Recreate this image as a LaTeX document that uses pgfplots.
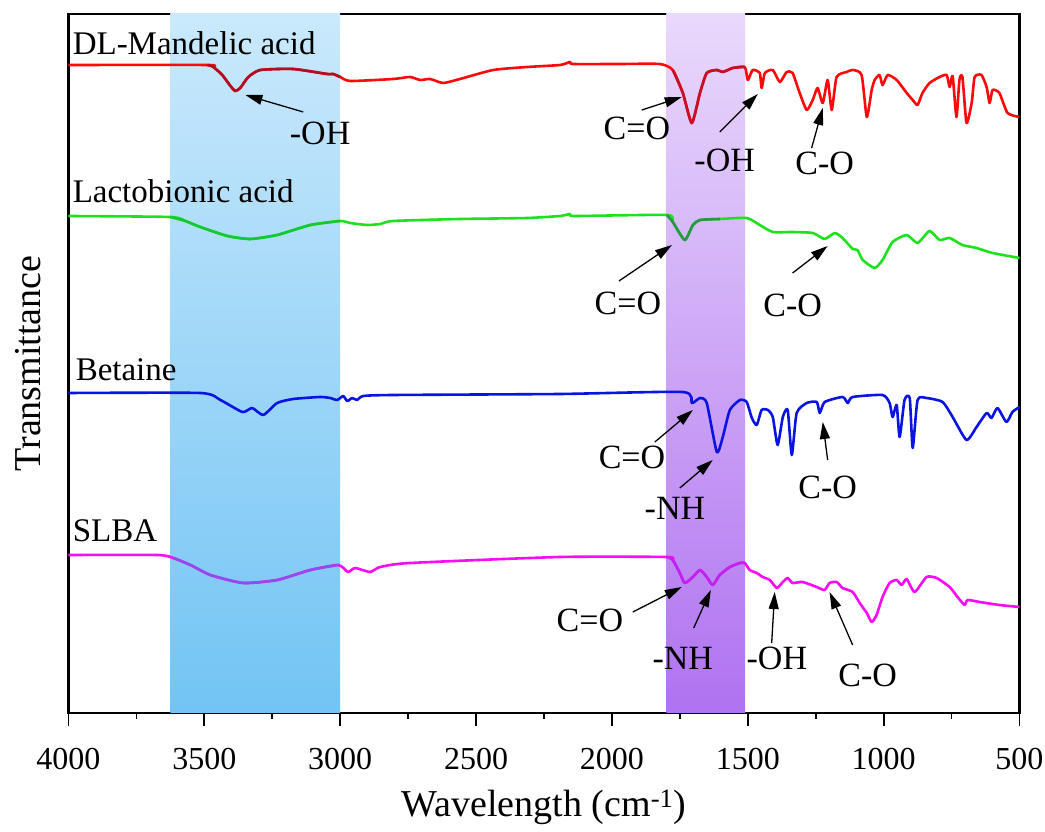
\documentclass[border=0pt]{standalone}
\usepackage{fontspec}
\setmainfont{Liberation Serif}
\usepackage{pgfplots}
\pgfplotsset{compat=1.18}
\usetikzlibrary{arrows.meta}
\definecolor{cRed}{RGB}{250,10,10}
\definecolor{cGreen}{RGB}{30,225,30}
\definecolor{cBlue}{RGB}{10,20,225}
\definecolor{cMag}{RGB}{250,10,245}
\definecolor{bBlueT}{RGB}{202,233,252}
\definecolor{bBlueB}{RGB}{114,196,244}
\definecolor{bPurT}{RGB}{233,217,252}
\definecolor{bPurB}{RGB}{176,114,241}
% curve colours seen through the bands
\definecolor{cRedB}{RGB}{175,15,35}
\definecolor{cGreenB}{RGB}{20,200,50}
\definecolor{cMagB}{RGB}{145,75,238}
\definecolor{cRedP}{RGB}{200,15,40}
\definecolor{cGreenP}{RGB}{40,150,70}
\definecolor{cMagP}{RGB}{190,35,240}
\pgfplotstableread{
x y
4000 648
3489 648
3467 646
3434 638
3404 627
3386 622
3368 625
3338 636
3294 643
3173 644
3048 639
3026 639
3000 636
2963 632
2805 634
2743 636
2706 633
2669 634
2621 630
2559 634
2437 643
2312 646
2191 648
2154 651
2143 649
1971 649
1824 649
1776 643
1739 620
1706 590
1676 620
1651 640
1614 643
1592 641
1555 645
1511 646
1500 633
1482 643
1456 640
1449 625
1437 640
1408 643
1382 631
1357 641
1335 640
1309 620
1283 603
1261 613
1243 625
1224 610
1206 633
1191 603
1173 636
1136 641
1114 643
1081 638
1062 596
1044 623
1033 633
1015 638
1004 628
985 638
952 633
915 620
893 613
875 608
857 620
831 630
794 636
768 638
757 626
746 637
732 596
721 633
710 636
695 590
676 610
665 636
640 638
621 626
610 610
599 623
574 620
544 600
500 596
}\tabMandelic
\pgfplotstableread{
x y
4000 497
3625 496
3570 492
3515 486
3415 477
3331 474
3232 478
3110 488
3000 492
2963 490
2901 488
2853 489
2805 492
2559 494
2312 495
2191 497
2154 499
2136 497
1798 498
1776 491
1732 473
1702 488
1676 493
1603 494
1504 495
1456 488
1408 481
1335 481
1261 480
1217 474
1180 480
1151 475
1114 464
1096 463
1077 453
1033 445
1004 453
967 471
915 478
875 470
831 482
794 473
757 475
710 468
658 465
599 460
500 455
}\tabLacto
\pgfplotstableread{
x y
4000 320
3515 320
3441 313
3360 301
3324 305
3283 298
3232 310
3173 314
3074 316
3037 315
3011 313
2989 317
2974 312
2956 315
2938 313
2915 317
2805 318
2191 319
1739 321
1706 310
1676 315
1651 310
1614 261
1592 276
1566 303
1529 313
1504 311
1485 295
1467 288
1449 303
1426 303
1408 296
1390 268
1371 296
1353 303
1338 258
1320 300
1283 310
1246 311
1235 300
1217 311
1151 316
1132 310
1114 316
1004 318
978 310
967 296
952 308
941 276
923 313
904 315
893 265
875 313
842 315
783 311
746 296
695 273
658 286
621 300
603 295
581 305
548 291
526 301
500 306
}\tabBetaine
\pgfplotstableread{
x y
4000 158
3673 158
3614 155
3551 148
3478 138
3357 130
3232 133
3110 143
3007 148
2971 141
2945 145
2890 141
2853 146
2743 150
2191 156
1798 156
1776 153
1750 140
1732 130
1702 136
1676 143
1651 136
1629 128
1603 138
1566 146
1529 150
1511 150
1493 143
1467 140
1445 136
1419 133
1393 125
1371 131
1353 135
1335 130
1298 131
1246 126
1217 123
1199 130
1173 131
1151 125
1114 121
1088 110
1062 100
1044 91
1026 98
1004 116
978 130
952 133
934 128
915 134
886 121
842 136
805 135
757 126
728 116
702 108
691 113
647 111
574 108
500 106
}\tabSLBA
\begin{document}
\begin{tikzpicture}[x=1pt,y=1pt]
\begin{axis}[
  at={(0,0)}, anchor=south west,
  scale only axis, width=951pt, height=699pt,
  x dir=reverse, xmin=500, xmax=4000, ymin=0, ymax=699,
  xtick={500,1000,...,4000}, minor x tick num=1,
  ytick=\empty, xtick pos=left,
  axis line style={line width=2.2pt},
  tick align=outside,
  major tick length=13pt, minor tick length=6pt,
  every tick/.style={black, line width=1.8pt},
  tick label style={font=\fontsize{32}{38}\selectfont},
  xticklabel style={yshift=-19pt},
  /pgf/number format/assume math mode=true,
  /pgf/number format/1000 sep={},
  xlabel={Wavelength (cm\textsuperscript{-1})},
  ylabel={Transmittance},
  every axis x label/.style={at={(axis description cs:0.5,0)}, anchor=center, yshift=-94pt,
    font=\fontsize{38}{44}\selectfont},
  every axis y label/.style={at={(axis description cs:0,0.5)}, xshift=-40pt, rotate=90, anchor=center,
    font=\fontsize{38}{44}\selectfont},
  clip=false,
  every axis plot/.append style={line width=2.6pt, line join=round, smooth, tension=0.35},
]
% bands (behind the curves)
\fill[top color=bBlueT, bottom color=bBlueB]
  (axis cs:3625,0) rectangle (axis cs:3000,699);
\fill[top color=bPurT, bottom color=bPurB]
  (axis cs:1800,0) rectangle (axis cs:1510,699);
% spectra
\addplot[cRed] table {\tabMandelic};
\addplot[cGreen] table {\tabLacto};
\addplot[cBlue] table {\tabBetaine};
\addplot[cMag] table {\tabSLBA};
% parts of the spectra seen through the bands
\addplot[cRedB, restrict x to domain=3000:3625] table {\tabMandelic};
\addplot[cGreenB, restrict x to domain=3000:3625] table {\tabLacto};
\addplot[cMagB, restrict x to domain=3000:3625] table {\tabSLBA};
\addplot[cRedP, restrict x to domain=1510:1800] table {\tabMandelic};
\addplot[cGreenP, restrict x to domain=1510:1800] table {\tabLacto};
\addplot[cMagP, restrict x to domain=1510:1800] table {\tabSLBA};
% series labels
\begin{scope}[every node/.style={font=\fontsize{33}{39}\selectfont, anchor=west, inner sep=0pt}]
\node at (axis cs:3985,670) {DL-Mandelic acid};
\node at (axis cs:3985,522) {Lactobionic acid};
\node at (axis cs:3974,343) {Betaine};
\node at (axis cs:3985,182) {SLBA};
\end{scope}
% annotations
\begin{scope}[every node/.style={font=\fontsize{34}{40}\selectfont, inner sep=0pt},
  ar/.style={-{Triangle[length=17pt,width=10pt]}, line width=1.3pt, black}]
\node at (axis cs:3074,580) {-OH};
\draw[ar] (axis cs:3136,601) -- (axis cs:3349,618);
\node at (axis cs:1908,585) {C=O};
\draw[ar] (axis cs:1890,603) -- (axis cs:1743,616);
\node at (axis cs:1585,553) {-OH};
\draw[ar] (axis cs:1603,581) -- (axis cs:1463,619);
\node at (axis cs:1217,550) {C-O};
\draw[ar] (axis cs:1265,565) -- (axis cs:1224,605);
\node at (axis cs:1941,410) {C=O};
\draw[ar] (axis cs:1974,432) -- (axis cs:1779,468);
\node at (axis cs:1335,408) {C-O};
\draw[ar] (axis cs:1335,440) -- (axis cs:1206,467);
\node at (axis cs:1926,256) {C=O};
\draw[ar] (axis cs:1842,271) -- (axis cs:1702,303);
\node at (axis cs:1768,205) {-NH};
\draw[ar] (axis cs:1750,225) -- (axis cs:1629,253);
\node at (axis cs:1206,226) {C-O};
\draw[ar] (axis cs:1206,253) -- (axis cs:1224,291);
\node at (axis cs:2081,93) {C=O};
\draw[ar] (axis cs:1923,101) -- (axis cs:1743,126);
\node at (axis cs:1739,55) {-NH};
\draw[ar] (axis cs:1699,85) -- (axis cs:1636,123);
\node at (axis cs:1393,55) {-OH};
\draw[ar] (axis cs:1412,70) -- (axis cs:1401,121);
\node at (axis cs:1059,38) {C-O};
\draw[ar] (axis cs:1114,68) -- (axis cs:1199,121);
\end{scope}
\end{axis}
\pgfresetboundingbox
\path[use as bounding box] (-68.5,-119) rectangle (976.5,713);
\end{tikzpicture}
\end{document}
